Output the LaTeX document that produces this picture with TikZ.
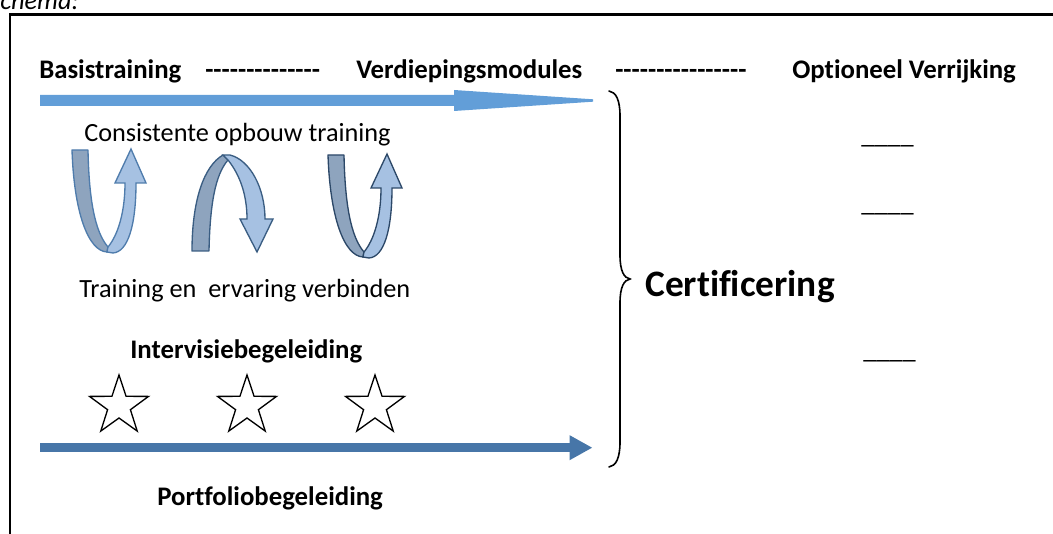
\documentclass[tikz,border=0pt]{standalone}
\usepackage{fontspec}
\setmainfont{Carlito}[Ligatures={TeXOff,NoCommon}]
\usetikzlibrary{arrows.meta}
\definecolor{topblue}{RGB}{98,158,216}
\definecolor{botblue}{RGB}{71,118,168}
\definecolor{darkband}{RGB}{142,164,190}
\definecolor{lightband}{RGB}{166,193,226}
\definecolor{edgeA}{RGB}{79,124,172}
\definecolor{edgeB}{RGB}{58,93,130}
\definecolor{edgeC}{RGB}{44,72,104}
\tikzset{
  txt/.style={inner sep=0pt, anchor=base west, font=\fontsize{19.7}{23}\selectfont},
  btxt/.style={inner sep=0pt, anchor=base west, font=\fontsize{20.1}{24}\selectfont\bfseries},
  bigtxt/.style={inner sep=0pt, anchor=base west, font=\fontsize{28}{33}\selectfont\bfseries},
  dband/.style={fill=darkband, line width=1pt, line join=round},
  lband/.style={fill=lightband, line width=1pt, line join=miter},
  starshape/.style={draw=black, fill=white, line width=1pt, line join=miter},
  frameline/.style={draw=black, line width=1.6pt},
  bracestyle/.style={draw=black, line width=1.2pt, line cap=round}
}
\begin{document}
\begin{tikzpicture}[x=0.75pt,y=-0.75pt]
\useasboundingbox (0,0) rectangle (1053,534);
% cut-off caption
\node[txt, font=\fontsize{19.7}{23}\selectfont\itshape] (cap) at (0,9.5) {chema:};
% frame
\draw[frameline] (10,560) -- (10,14.5) -- (1070,14.5);
% top row
\node[btxt] (basis) at (39,79) {Basistraining};
\node[btxt] (d1) at (205,79) {--------------};
\node[btxt] (verd) at (356,79) {Verdiepingsmodules};
\node[btxt] (d2) at (615,79) {----------------};
\node[btxt] (opt) at (792,79) {Optioneel Verrijking};
% top arrow
\coordinate (ta) at (40,100.5);
\coordinate (tb) at (593,100.5);
\fill[topblue] (ta) ++(0,-5.5) -- (454,95) -- (454,90) -- (593,99.3) -- (tb) -- (593,101.7) -- (454,111) -- (454,106) -- (40,106) -- cycle;
% texts
\node[txt] (cons) at (84,141.5) {Consistente opbouw training};
\node[txt] (trai) at (79,297.5) {Training en\ \ ervaring verbinden};
\node[btxt] (inter) at (130,358.5) {Intervisiebegeleiding};
\node[btxt] (port) at (157,505.5) {Portfoliobegeleiding};
% U-turn arrow 1
\path[dband, draw=edgeA] (72,150) -- (88,150) .. controls (89,200) and (95,232) .. (108,247) -- (107,252) .. controls (88,251) and (74,212) .. (72,150) -- cycle;
\path[lband, draw=edgeA] (108,247) .. controls (118,235) and (125,212) .. (125,183) -- (115,183) -- (131,149) -- (146,183) -- (136,183) .. controls (136,225) and (128,252) .. (113,253) -- (107,252) -- cycle;
% U-turn arrow 2
\path[dband, draw=edgeB] (192,251) -- (209,251) .. controls (210,205) and (215,175) .. (228,160) -- (223,155) .. controls (204,166) and (192,200) .. (192,251) -- cycle;
\path[lband, draw=edgeB] (228,160) .. controls (240,175) and (247,195) .. (247,219) -- (240,219) -- (257,252) -- (273,219) -- (265,219) .. controls (265,188) and (250,160) .. (230,155) -- (223,155) -- cycle;
% U-turn arrow 3
\begin{scope}[shift={(256,5)}]
\path[dband, draw=edgeC] (72,150) -- (88,150) .. controls (89,200) and (95,232) .. (108,247) -- (107,252) .. controls (88,251) and (74,212) .. (72,150) -- cycle;
\path[lband, draw=edgeC] (108,247) .. controls (118,235) and (125,212) .. (125,183) -- (115,183) -- (131,149) -- (146,183) -- (136,183) .. controls (136,225) and (128,252) .. (113,253) -- (107,252) -- cycle;
\end{scope}
% stars
\foreach \cx in {119,247,375}{
  \begin{scope}[shift={(\cx,406)}]
  \draw[starshape] (270:31) -- (306:12) -- (342:31) -- (18:12) -- (54:31) -- (90:12)
    -- (126:31) -- (162:12) -- (198:31) -- (234:12) -- cycle;
  \end{scope}
}
% bottom arrow
\coordinate (ba) at (40,447.7);
\coordinate (bb) at (592.5,447.7);
\draw[botblue, line width=6.5pt, -{Triangle[length=17.25pt,width=17.5pt]}] (ba) -- (bb);
% brace
\coordinate (brt) at (609,91);
\coordinate (brm) at (630,279);
\coordinate (brb) at (609,467);
\draw[bracestyle] (brt) .. controls (616,92) and (620,100) .. (620,116) -- (620,255) .. controls (620,271) and (624,278) .. (brm) .. controls (624,280) and (620,287) .. (620,303) -- (620,442) .. controls (620,458) and (616,466) .. (brb);
% certificering
\node[bigtxt] (cert) at (645,297) {Certificering};
% blanks
\node[txt] (u1) at (861,144) {\_\_\_\_};
\node[txt] (u2) at (861,212) {\_\_\_\_};
\node[txt] (u3) at (863,359) {\_\_\_\_};
\end{tikzpicture}
\end{document}
